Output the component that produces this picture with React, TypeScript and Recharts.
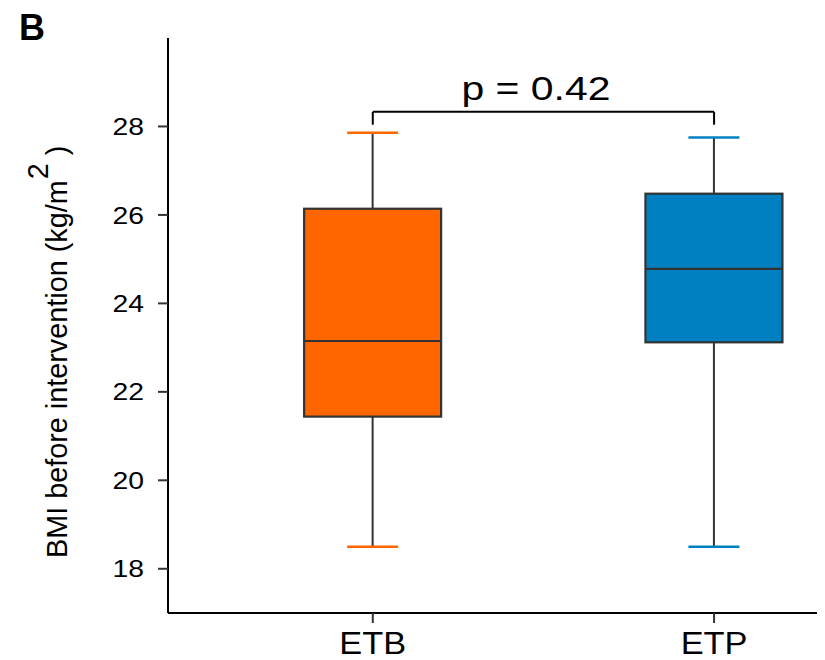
import { ComposedChart, Bar, XAxis, YAxis, ReferenceLine } from 'recharts';

const groups = ['ETB', 'ETP'];
const positions = [1, 2];
const whiskerLow = [18.5, 18.5];
const q1 = [21.44, 23.12];
const median = [23.15, 24.78];
const q3 = [26.14, 26.48];
const whiskerHigh = [27.86, 27.75];
const boxColors = ['#FF6600', '#0080C0'];
const yTicks = [18, 20, 22, 24, 26, 28];
const pText = 'p = 0.42';
const yTitle = 'BMI before intervention (kg/m';
const bracketTop = 28.33;
const bracketBottom = 28.04;

const FONT = '"Liberation Sans", Arial, Helvetica, sans-serif';

const data = groups.map((g, i) => ({
    name: g,
    pos: positions[i],
    range: [whiskerLow[i], whiskerHigh[i]],
    lo: whiskerLow[i],
    q1: q1[i],
    med: median[i],
    q3: q3[i],
    hi: whiskerHigh[i],
    color: boxColors[i],
}));

function BoxShape(props: any) {
    const { x, y, width, height, payload } = props;
    const top = Math.min(y, y + height);
    const h = Math.abs(height);
    const k = h / (payload.hi - payload.lo);
    const py = (v: number) => top + (payload.hi - v) * k;
    const cx = x + width / 2;
    const boxW = 137;
    const capW = 51;
    return (
        <g>
            <line x1={cx} x2={cx} y1={py(payload.hi)} y2={py(payload.q3)} stroke="#333" strokeWidth={2} />
            <line x1={cx} x2={cx} y1={py(payload.q1)} y2={py(payload.lo)} stroke="#333" strokeWidth={2} />
            <line x1={cx - capW / 2} x2={cx + capW / 2} y1={py(payload.hi)} y2={py(payload.hi)} stroke={payload.color} strokeWidth={2.5} />
            <line x1={cx - capW / 2} x2={cx + capW / 2} y1={py(payload.lo)} y2={py(payload.lo)} stroke={payload.color} strokeWidth={2.5} />
            <rect x={cx - boxW / 2} y={py(payload.q3)} width={boxW} height={py(payload.q1) - py(payload.q3)} fill={payload.color} stroke="#333" strokeWidth={2.2} />
            <line x1={cx - boxW / 2} x2={cx + boxW / 2} y1={py(payload.med)} y2={py(payload.med)} stroke="#333" strokeWidth={2.2} />
        </g>
    );
}

function YTick({ x, y, payload }: any) {
    return (
        <text transform={`translate(${x},${y}) scale(1.18,1)`} textAnchor="end" dy="0.36em" fontSize={24} fontFamily={FONT} fill="#000">
            {payload.value}
        </text>
    );
}

function XTick({ x, y, payload }: any) {
    return (
        <text transform={`translate(${x},${y}) scale(1.11,1)`} textAnchor="middle" y={23} fontSize={31} fontFamily={FONT} fill="#000">
            {groups[positions.indexOf(payload.value)]}
        </text>
    );
}

function YLabel() {
    return (
        <text transform="translate(59,550) rotate(-90)" fontSize={28.8} fontFamily={FONT} fill="#000">
            {yTitle}
            <tspan dy={-19} dx={1}>2</tspan>
            <tspan dy={19} dx={8}>)</tspan>
        </text>
    );
}

function PLabel({ viewBox }: any) {
    const cx = viewBox.x + viewBox.width / 2 - 7.5;
    const cy = viewBox.y - 12;
    return (
        <text transform={`translate(${cx},${cy}) scale(1.24,1)`} textAnchor="middle" fontSize={33} fontFamily={FONT} fill="#000">
            {pText}
        </text>
    );
}

export default function App() {
    return (
        <div style={{ position: 'relative', width: 817, height: 652 }}>
            <div style={{ position: 'absolute', left: 11, top: 2, fontFamily: FONT, fontWeight: 'bold', fontSize: 36, lineHeight: '36px' }}>B</div>
            <ComposedChart width={817} height={652} data={data} margin={{ top: 30, right: 0, bottom: 0, left: 0 }}>
                <XAxis
                    dataKey="pos"
                    type="number"
                    domain={[0.4, 2.325]}
                    ticks={positions}
                    allowDataOverflow
                    height={47}
                    tickSize={10}
                    tickMargin={8}
                    axisLine={{ stroke: '#000', strokeWidth: 2 }}
                    tickLine={{ stroke: '#333', strokeWidth: 2 }}
                    tick={XTick}
                />
                <YAxis
                    type="number"
                    domain={[17, 30]}
                    ticks={yTicks}
                    width={160}
                    tickSize={10}
                    tickMargin={14}
                    axisLine={{ stroke: '#000', strokeWidth: 2 }}
                    tickLine={{ stroke: '#333', strokeWidth: 2 }}
                    tick={YTick}
                    label={<YLabel />}
                />
                <Bar dataKey="range" barSize={137} shape={BoxShape} isAnimationActive={false} />
                <ReferenceLine segment={[{ x: 1, y: bracketTop }, { x: 2, y: bracketTop }]} stroke="#000" strokeWidth={2} label={<PLabel />} />
                <ReferenceLine segment={[{ x: 1, y: bracketBottom }, { x: 1, y: bracketTop }]} stroke="#000" strokeWidth={2} />
                <ReferenceLine segment={[{ x: 2, y: bracketBottom }, { x: 2, y: bracketTop }]} stroke="#000" strokeWidth={2} />
            </ComposedChart>
        </div>
    );
}
